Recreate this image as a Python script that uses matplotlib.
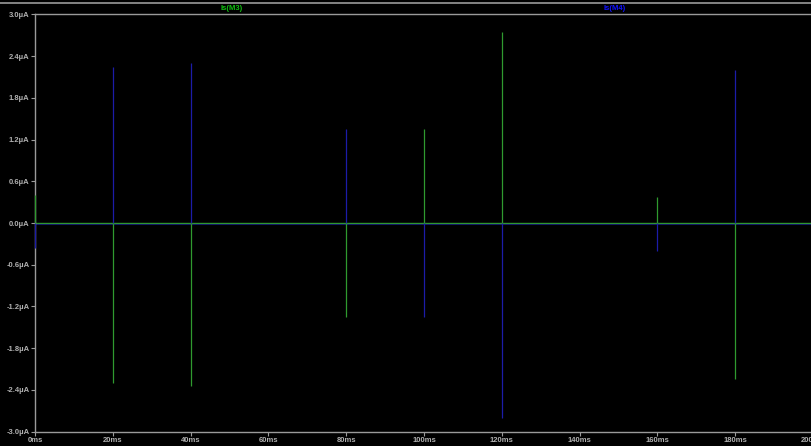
import matplotlib.pyplot as plt
import numpy as np

# spike times (ms) and peak currents (uA)
m3_times = np.array([0, 20, 40, 80, 100, 120, 160, 180])
m3_amps = np.array([0.4, -2.3, -2.35, -1.35, 1.35, 2.75, 0.37, -2.25])
m4_times = np.array([0, 20, 40, 80, 100, 120, 160, 180])
m4_amps = np.array([-0.36, 2.25, 2.3, 1.35, -1.35, -2.8, -0.4, 2.2])

yticks = np.arange(-3.0, 3.01, 0.6)
xticks = np.arange(0, 201, 20)

green = '#2f9a2f'
blue = '#1c1ca8'
grey = '#9a9a9a'

fig = plt.figure(figsize=(8.12, 4.46), dpi=100, facecolor='black')
ax = fig.add_axes([35/812, 14.5/446, 778/812, 417/446])
ax.set_facecolor('black')

ax.vlines(m3_times, 0, m3_amps, color=green, lw=0.9, zorder=3, clip_on=False)
ax.vlines(m4_times, 0, m4_amps, color=blue, lw=0.9, zorder=3, clip_on=False)
ax.plot([0, 200], [0, 0], color=green, lw=1.0)
ax.plot([0, 200], [-0.01, -0.01], color=blue, lw=0.8, alpha=0.6)

ax.set_xlim(0, 200)
ax.set_ylim(-3.0, 3.0)
ax.set_xticks(xticks)
ax.set_xticklabels([f'{t}ms' for t in xticks])
ax.set_yticks(yticks)
ax.set_yticklabels([f'{v:.1f}\u00b5A' for v in yticks])

for s in ['left', 'bottom', 'top']:
    ax.spines[s].set_color(grey)
    ax.spines[s].set_linewidth(1.0)
ax.spines['right'].set_visible(False)
ax.tick_params(colors=grey, length=3, width=0.8, pad=1,
               labelsize=5.5, labelcolor='#b0b0b0')
for lab in ax.get_xticklabels() + ax.get_yticklabels():
    lab.set_family('Liberation Sans')
    lab.set_fontweight('bold')

fig.text(232/812, 1 - 8/446, 'Is(M3)', color='#10c010', fontsize=5.5,
         fontweight='bold', family='Liberation Sans', ha='center', va='center')
fig.text(615/812, 1 - 8/446, 'Is(M4)', color='#1010ff', fontsize=5.5,
         fontweight='bold', family='Liberation Sans', ha='center', va='center')
fig.add_artist(plt.Line2D([0, 1], [1 - 2.5/446, 1 - 2.5/446], color=grey, lw=1.2))

fig.savefig('out.png', dpi=100, facecolor='black')
